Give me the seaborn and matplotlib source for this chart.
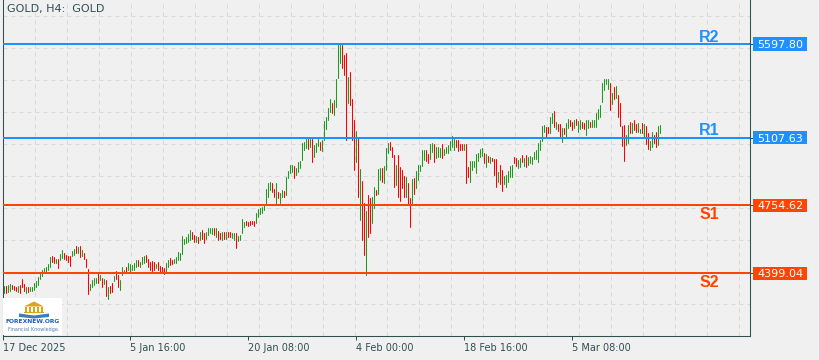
import numpy as np
import pandas as pd
import matplotlib
matplotlib.use("Agg")
import matplotlib.pyplot as plt
import matplotlib.transforms as mtransforms
from matplotlib.patches import Rectangle, Polygon
import seaborn as sns

# --- DATA (one entry per bar) ---
TITLE = "GOLD, H4:  GOLD"

HIGH = [
    4332, 4332, 4337, 4343, 4337, 4332, 4327, 4332, 4337, 4369, 4343, 4327, 4327, 4327, 4327, 4348, 4358, 4379, 4405, 4416,
    4426, 4432, 4447, 4484, 4489, 4484, 4473, 4473, 4500, 4520, 4505, 4494, 4489, 4489, 4515, 4526, 4541, 4536, 4541, 4520,
    4505, 4473, 4421, 4343, 4364, 4374, 4374, 4400, 4390, 4374, 4369, 4364, 4327, 4332, 4348, 4385, 4411, 4390, 4364, 4432,
    4416, 4432, 4452, 4447, 4442, 4452, 4468, 4468, 4458, 4484, 4489, 4494, 4473, 4458, 4463, 4458, 4447, 4458, 4437, 4432,
    4426, 4452, 4468, 4479, 4468, 4473, 4484, 4510, 4505, 4594, 4578, 4588, 4604, 4625, 4615, 4599, 4594, 4588, 4615, 4625,
    4609, 4615, 4636, 4636, 4636, 4636, 4636, 4620, 4609, 4615, 4615, 4615, 4615, 4615, 4609, 4609, 4609, 4594, 4599, 4683,
    4667, 4672, 4667, 4672, 4672, 4672, 4714, 4735, 4740, 4745, 4761, 4840, 4871, 4876, 4871, 4840, 4871, 4824, 4819, 4834,
    4829, 4902, 4934, 4965, 4965, 4960, 4949, 4981, 4986, 5080, 5085, 5101, 5101, 5101, 5101, 5070, 5080, 5101, 5085, 5096,
    5195, 5216, 5263, 5310, 5289, 5305, 5415, 5593, 5593, 5593, 5540, 5551, 5425, 5451, 5310, 5200, 5143, 5106, 4944, 4881,
    4766, 4725, 4808, 4793, 4798, 4850, 4834, 4944, 4949, 4949, 4960, 5054, 5080, 5085, 5059, 5017, 4965, 5017, 4955, 4939,
    4908, 4902, 4871, 4793, 4892, 4897, 4934, 4965, 4965, 5044, 5044, 5044, 5023, 5075, 5080, 5075, 5059, 5059, 5054, 5075,
    5049, 5059, 5070, 5091, 5117, 5101, 5096, 5096, 5075, 5075, 5075, 5075, 4955, 4986, 4986, 4986, 5023, 5028, 5049, 5054,
    5028, 5023, 5012, 5007, 5002, 4996, 4996, 4928, 4965, 4939, 4908, 4913, 4934, 4960, 4965, 5007, 5002, 4991, 5002, 5017,
    5002, 5017, 5007, 5012, 5007, 5033, 5044, 5080, 5096, 5169, 5174, 5164, 5164, 5216, 5237, 5248, 5190, 5179, 5179, 5159,
    5159, 5185, 5206, 5200, 5190, 5200, 5206, 5195, 5200, 5190, 5185, 5200, 5200, 5190, 5200, 5200, 5237, 5258, 5279, 5394,
    5415, 5415, 5415, 5394, 5342, 5373, 5378, 5331, 5289, 5169, 5174, 5122, 5174, 5190, 5185, 5200, 5179, 5185, 5153, 5185,
    5179, 5169, 5133, 5091, 5138, 5122, 5138, 5169, 5174,
]

LOW = [
    4296, 4296, 4301, 4306, 4316, 4311, 4306, 4301, 4296, 4327, 4306, 4296, 4301, 4306, 4306, 4311, 4327, 4337, 4369, 4385,
    4400, 4405, 4416, 4432, 4458, 4453, 4453, 4426, 4468, 4479, 4473, 4468, 4458, 4437, 4489, 4494, 4505, 4505, 4484, 4489,
    4473, 4432, 4290, 4311, 4327, 4337, 4348, 4348, 4364, 4327, 4343, 4280, 4264, 4296, 4301, 4358, 4369, 4327, 4311, 4390,
    4400, 4400, 4416, 4405, 4416, 4416, 4432, 4437, 4432, 4447, 4452, 4458, 4432, 4416, 4411, 4416, 4426, 4416, 4405, 4400,
    4395, 4405, 4432, 4442, 4447, 4452, 4452, 4468, 4468, 4500, 4552, 4557, 4562, 4573, 4578, 4562, 4562, 4557, 4573, 4578,
    4557, 4578, 4599, 4609, 4604, 4599, 4589, 4573, 4578, 4573, 4578, 4578, 4589, 4589, 4583, 4573, 4531, 4568, 4573, 4609,
    4641, 4651, 4646, 4651, 4656, 4646, 4662, 4693, 4709, 4714, 4730, 4756, 4798, 4834, 4824, 4798, 4756, 4793, 4766, 4798,
    4798, 4808, 4897, 4923, 4928, 4897, 4913, 4928, 4949, 4991, 5044, 5054, 5049, 5059, 4981, 5007, 5033, 5064, 5044, 5038,
    5096, 5153, 5200, 5242, 5237, 5227, 5268, 5420, 5499, 5472, 5436, 5096, 5289, 5279, 5096, 4939, 4981, 4798, 4677, 4573,
    4494, 4390, 4589, 4609, 4662, 4740, 4808, 4813, 4887, 4876, 4871, 4939, 5028, 5044, 5007, 4850, 4860, 4798, 4777, 4845,
    4798, 4798, 4756, 4641, 4756, 4813, 4845, 4887, 4934, 4960, 4991, 4986, 4975, 4996, 5033, 4981, 5002, 5007, 5007, 5002,
    5017, 5028, 5028, 5044, 5059, 5044, 5059, 5038, 5044, 5044, 5044, 4871, 4902, 4876, 4939, 4955, 4923, 4986, 5007, 5012,
    4975, 4955, 4981, 4975, 4986, 4913, 4850, 4876, 4866, 4829, 4866, 4850, 4876, 4902, 4902, 4975, 4960, 4949, 4955, 4981,
    4960, 4955, 4965, 4975, 4970, 4996, 4996, 4981, 5044, 5091, 5138, 5112, 5133, 5133, 5185, 5164, 5153, 5143, 5112, 5085,
    5127, 5112, 5159, 5169, 5148, 5159, 5174, 5138, 5153, 5159, 5153, 5122, 5159, 5164, 5164, 5164, 5164, 5206, 5216, 5295,
    5357, 5389, 5363, 5253, 5284, 5310, 5315, 5216, 5169, 5064, 4986, 5070, 5080, 5133, 5133, 5148, 5138, 5138, 5133, 5133,
    5112, 5075, 5049, 5044, 5059, 5080, 5059, 5070, 5133,
]

# 1 = bullish bar (green), 0 = bearish bar (red)
UP = [
    1, 0, 1, 1, 0, 0, 0, 1, 0, 0, 0, 1, 0, 1, 1, 1, 1, 1, 1, 1,
    1, 1, 1, 1, 0, 0, 1, 0, 1, 1, 0, 0, 0, 0, 1, 1, 0, 1, 0, 1,
    0, 0, 0, 1, 1, 1, 1, 0, 1, 0, 1, 0, 1, 0, 0, 1, 0, 0, 1, 1,
    1, 0, 1, 1, 1, 1, 1, 0, 1, 1, 1, 0, 0, 0, 0, 0, 1, 0, 0, 0,
    0, 1, 1, 0, 0, 1, 1, 1, 1, 1, 1, 1, 1, 1, 0, 0, 1, 0, 1, 0,
    0, 1, 1, 1, 1, 0, 1, 0, 0, 1, 0, 1, 0, 0, 1, 1, 0, 1, 1, 1,
    1, 0, 0, 0, 0, 0, 1, 1, 1, 1, 1, 1, 1, 1, 0, 0, 1, 0, 1, 1,
    0, 1, 1, 1, 1, 0, 1, 1, 1, 1, 1, 1, 0, 1, 0, 1, 1, 1, 0, 1,
    1, 1, 1, 1, 0, 1, 1, 1, 1, 0, 0, 0, 1, 0, 0, 0, 1, 0, 1, 0,
    0, 1, 0, 0, 1, 1, 0, 1, 1, 0, 1, 1, 1, 0, 0, 0, 1, 0, 0, 0,
    0, 1, 0, 0, 1, 0, 1, 1, 1, 1, 1, 0, 0, 1, 1, 0, 1, 1, 1, 0,
    1, 1, 1, 1, 1, 1, 0, 0, 0, 0, 1, 0, 0, 1, 1, 1, 1, 1, 1, 1,
    0, 1, 0, 1, 0, 0, 0, 1, 0, 0, 1, 1, 1, 1, 1, 0, 0, 1, 1, 0,
    1, 0, 1, 1, 1, 1, 1, 1, 1, 1, 1, 0, 0, 1, 1, 0, 1, 0, 0, 1,
    0, 1, 1, 0, 0, 1, 0, 1, 1, 0, 0, 1, 1, 0, 1, 1, 1, 1, 1, 1,
    1, 1, 1, 0, 1, 0, 1, 0, 0, 0, 0, 1, 1, 0, 1, 0, 0, 1, 1, 0,
    1, 0, 0, 1, 1, 0, 0, 1, 1,
]

LEVEL_NAMES = ["R2", "R1", "S1", "S2"]
LEVEL_PRICES = [5597.80, 5107.63, 4754.62, 4399.04]
LEVEL_TEXT = ["5597.80", "5107.63", "4754.62", "4399.04"]

TICK_BARS = [-0.75, 63, 122, 176, 230, 284]
TICK_LABELS = ["17 Dec 2025", "5 Jan 16:00", "20 Jan 08:00", "4 Feb 00:00", "18 Feb 16:00", "5 Mar 08:00"]

# --- STYLE ---
BG = "#F0F0F0"
AXIS_C = "#2F4F4F"
UP_C = "#1E9A1E"
DN_C = "#FF0000"
RES_C = "#1E90FF"
SUP_C = "#FF4500"
GRID_C = "#D9D9D9"

Y_TOP = 5828.0
PX = 5.23  # price per pixel
Y_BOT = Y_TOP - PX * 336

sns.set_theme(style="white", rc={"axes.facecolor": BG, "figure.facecolor": BG})
plt.rcParams["font.family"] = ["DejaVu Sans"]

bars = pd.DataFrame({"bar": np.arange(len(HIGH)), "high": HIGH, "low": LOW,
                     "dir": np.where(np.array(UP) == 1, "up", "down")})
long = bars.melt(id_vars=["bar", "dir"], value_vars=["low", "high"], value_name="price")

fig = plt.figure(figsize=(8.2, 3.6), dpi=100, facecolor=BG)
ax = fig.add_axes([3 / 820, 24 / 360, 747 / 820, 336 / 360])
ax.set_facecolor(BG)

sns.lineplot(data=long, x="bar", y="price", hue="dir", units="bar", estimator=None,
             palette={"up": UP_C, "down": DN_C}, legend=False, linewidth=0.75, ax=ax)

ax.set_xlim(-0.75, 372.75)
ax.set_ylim(Y_BOT, Y_TOP)
ax.set_xlabel("")
ax.set_ylabel("")

# pixel-style grid (every 16 bars / every 32 px)
ax.set_xticks(np.arange(15.5, 372, 16), minor=True)
ax.set_yticks(np.arange(Y_TOP - 16 * PX, Y_BOT + 5, -32 * PX), minor=True)
ax.grid(which="minor", color=GRID_C, linestyle=(0, (4, 4)), linewidth=0.72)
ax.grid(which="major", visible=False)
ax.set_axisbelow(True)
ax.tick_params(which="minor", length=0)

ax.set_xticks(TICK_BARS)
ax.set_xticklabels(TICK_LABELS, ha="left")
ax.tick_params(axis="x", which="major", length=2.9, width=0.72, color=AXIS_C,
               labelcolor=AXIS_C, labelsize=7, pad=2, bottom=True)

ax.yaxis.tick_right()
ax.set_yticks(LEVEL_PRICES)
ax.set_yticklabels([])
ax.tick_params(axis="y", which="major", length=2.2, width=0.72, color=AXIS_C, right=True, left=False)

ax.spines["top"].set_visible(False)
for side in ["left", "right", "bottom"]:
    ax.spines[side].set_color(AXIS_C)
    ax.spines[side].set_linewidth(0.75)

# support / resistance levels
trans = mtransforms.blended_transform_factory(ax.transAxes, ax.transData)
for name, price, txt in zip(LEVEL_NAMES, LEVEL_PRICES, LEVEL_TEXT):
    c = RES_C if name.startswith("R") else SUP_C
    ax.axhline(price, color=c, linewidth=1.45, zorder=3)
    ax.add_patch(Rectangle((1.00442, price - 35), 0.07149, 70, transform=trans,
                           facecolor=c, edgecolor="none", clip_on=False, zorder=5))
    ax.text(1.0402, price, txt, transform=trans, ha="center", va="center_baseline",
            color="white", fontsize=8, clip_on=False, zorder=6)
    y_lab = price + 12 if name.startswith("R") else price - 74
    ax.text(352.25, y_lab, name, ha="center", va="baseline", color=c, fontsize=11.5,
            fontweight="bold", family=["Liberation Sans", "DejaVu Sans"], zorder=6)

fig.text(7 / 820, 1 - 4 / 360, TITLE, ha="left", va="top", fontsize=8, color=AXIS_C)

# watermark logo, bottom left
lax = fig.add_axes([3 / 820, 25 / 360, 59 / 820, 37 / 360])
lax.set_xlim(0, 59)
lax.set_ylim(37, 0)
lax.axis("off")
lax.add_patch(Rectangle((0, 0), 59, 37, facecolor="white", edgecolor="none"))
gold = "#D9A520"
lax.add_patch(Polygon([(21, 8.5), (31, 3.5), (41, 8.5)], facecolor=gold, edgecolor="none"))
for cx in [22.5, 26.5, 30.5, 34.5, 38.5]:
    lax.add_patch(Rectangle((cx, 9), 1.6, 5, facecolor=gold, edgecolor="none"))
lax.add_patch(Rectangle((21, 14), 20, 1.2, facecolor=gold, edgecolor="none"))
lax.add_patch(Polygon([(16, 15.5), (31, 17.5), (46, 15.5), (46, 19), (31, 20.5), (16, 19)],
                      facecolor="#3F7CC4", edgecolor="none"))
lax.text(30, 23.5, "FOREXNEW.ORG", ha="center", va="center", fontsize=4.3,
         fontweight="bold", color="#1F5FAF")
lax.text(31, 31.5, "Financial Knowledge.", ha="center", va="center", fontsize=3.5, color="#4F7FAF")

fig.savefig("out.png", dpi=100, facecolor=BG)
